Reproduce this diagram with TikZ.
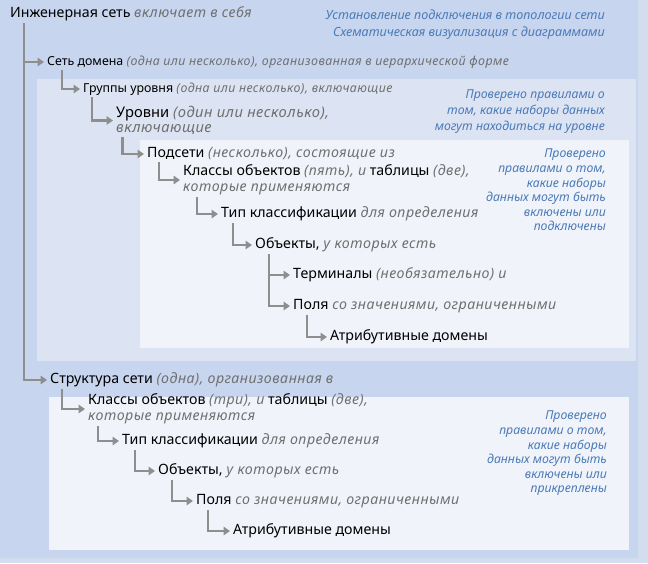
\documentclass[tikz,border=0pt]{standalone}
\usepackage{fontspec}
\setmainfont{Noto Sans}
\usetikzlibrary{arrows.meta}
\definecolor{edgeblue}{HTML}{D2DDF0}
\definecolor{bgblue}{HTML}{C7D5EE}
\definecolor{midpanel}{HTML}{DCE3F2}
\definecolor{lightpanel}{HTML}{F0F3FA}
\definecolor{linegray}{HTML}{8E8E8E}
\definecolor{txtgray}{HTML}{707070}
\definecolor{noteblue}{HTML}{4B7BB8}
\newcommand{\gi}[1]{\textcolor{txtgray}{\itshape\addfontfeatures{LetterSpace=3.5}#1}}

\begin{document}
\begin{tikzpicture}[x=1pt,y=-1pt]
        \tikzset{item/.style = {anchor=west, inner sep=2pt, align=left, font=\fontsize{14.2}{16}\selectfont}}
        \tikzset{small/.style = {item, font=\fontsize{12.4}{15}\selectfont}}
        \tikzset{big/.style = {item, font=\fontsize{14.7}{15}\selectfont}}
        \tikzset{note/.style = {anchor=north east, align=right, inner sep=0pt, text=noteblue, font=\fontsize{12.3}{14.6}\selectfont\itshape}}
        \tikzset{conn/.style = {-{Triangle[length=6.5pt,width=8.5pt]}, line width=2.6pt, draw=linegray, line join=miter, shorten >=1pt}}
        \useasboundingbox (0,0) rectangle (648,563);
        % panels
        \fill[edgeblue] (0,0) rectangle (648,563);
        \fill[bgblue] (0,0) rectangle (638,558);
        \fill[midpanel] (37,79) rectangle (636,361);
        \fill[lightpanel] (140,140) rectangle (629,348);
        \fill[lightpanel] (49,397) rectangle (629,550);
        % vertices
        \node[item] (eng) at (8,14) {Инженерная сеть \gi{включает в себя}};
        \node[small] (dom) at (45,62) {Сеть домена \gi{(одна или несколько), организованная в иерархической форме}};
        \node[small] (grp) at (81,89) {Группы уровня \gi{(одна или несколько), включающие}};
        \node[big] (lev) at (114,120.5) {Уровни \gi{(один или несколько),}\\\gi{включающие}};
        \node[item] (sub) at (145,154) {Подсети \gi{(несколько), состоящие из}};
        \node[item] (cls) at (181,180) {Классы объектов \gi{(пять), и} таблицы \gi{(две),}\\\gi{которые применяются}};
        \node[item] (typ) at (219,214) {Тип классификации \gi{для определения}};
        \node[item] (obj) at (253,245) {Объекты, \gi{у которых есть}};
        \node[item] (term) at (291,275) {Терминалы \gi{(необязательно) и}};
        \node[item] (fld) at (291,306) {Поля \gi{со значениями, ограниченными}};
        \node[item] (atr) at (328,337) {Атрибутивные домены};
        \node[item] (struct) at (48,380) {Структура сети \gi{(одна), организованная в}};
        \node[item] (scls) at (86,409) {Классы объектов \gi{(три), и} таблицы \gi{(две),}\\\gi{которые применяются}};
        \node[item] (styp) at (120,441) {Тип классификации \gi{для определения}};
        \node[item] (sobj) at (156,471) {Объекты, \gi{у которых есть}};
        \node[item] (sfld) at (194,501) {Поля \gi{со значениями, ограниченными}};
        \node[item] (satr) at (231,531) {Атрибутивные домены};
        % notes
        \node[note, font=\fontsize{12.6}{17}\selectfont\itshape] (topnote) at (605,10) {Установление подключения в топологии сети\\Схематическая визуализация с диаграммами};
        \node[note, font=\fontsize{12.3}{16}\selectfont\itshape] (levnote) at (605,90) {Проверено правилами о\\том, какие наборы данных\\могут находиться на уровне};
        \node[note] (subnote) at (606,149) {Проверено\\правилами о том,\\какие наборы\\данных могут быть\\включены или\\подключены};
        \node[note] (structnote) at (607,411) {Проверено\\правилами о том,\\какие наборы\\данных могут быть\\включены или\\прикреплены};
        %edges
        \draw[conn] ([xshift=16pt]eng.south west) |- (dom.west);
        \draw[conn] ([xshift=16pt]eng.south west) |- (struct.west);
        \draw[conn] ([xshift=17pt]dom.south west) |- (grp.west);
        \draw[conn] ([xshift=11pt]grp.south west) |- (lev.west);
        \draw[conn] ([xshift=8.5pt]lev.south west) |- (sub.west);
        \draw[conn] ([xshift=14pt]sub.south west) |- (cls.west);
        \draw[conn] ([xshift=16pt]cls.south west) |- (typ.west);
        \draw[conn] ([xshift=14pt]typ.south west) |- (obj.west);
        \draw[conn] ([xshift=16pt]obj.south west) |- (term.west);
        \draw[conn] ([xshift=16pt]obj.south west) |- (fld.west);
        \draw[conn] ([xshift=16pt]fld.south west) |- (atr.west);
        \draw[conn] ([xshift=14pt]struct.south west) |- (scls.west);
        \draw[conn] ([xshift=12pt]scls.south west) |- (styp.west);
        \draw[conn] ([xshift=15pt]styp.south west) |- (sobj.west);
        \draw[conn] ([xshift=16pt]sobj.south west) |- (sfld.west);
        \draw[conn] ([xshift=14pt]sfld.south west) |- (satr.west);
\end{tikzpicture}
\end{document}
